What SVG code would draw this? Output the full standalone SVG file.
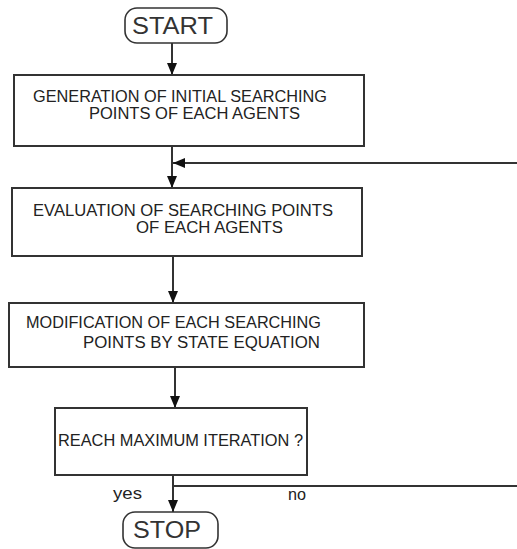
<svg xmlns="http://www.w3.org/2000/svg" width="517" height="549" viewBox="0 0 517 549">
<style>
.box{fill:#fff;stroke:#333;stroke-width:2}
.term{fill:#fff;stroke:#333;stroke-width:1.6}
.t{font-family:"Liberation Sans",Arial,sans-serif;font-size:16px;fill:#222}
.big{font-family:"Liberation Sans",Arial,sans-serif;font-size:23px;fill:#333}
.c{stroke:#333;stroke-width:2;fill:none}
</style>
<defs>
<marker id="arr" viewBox="0 0 12 10" refX="12" refY="5" markerWidth="12" markerHeight="10" orient="auto" markerUnits="userSpaceOnUse">
<path d="M0,0 L12,5 L0,10 z" fill="#111"/>
</marker>
</defs>
<rect width="517" height="549" fill="#fff"/>
<g id="connectors">
<line class="c" x1="172" y1="43" x2="172" y2="75" marker-end="url(#arr)"/>
<line class="c" x1="172" y1="146" x2="172" y2="188" marker-end="url(#arr)"/>
<line class="c" x1="517" y1="163" x2="173" y2="163" marker-end="url(#arr)"/>
<line class="c" x1="173" y1="256" x2="173" y2="303" marker-end="url(#arr)"/>
<line class="c" x1="175" y1="367" x2="175" y2="408" marker-end="url(#arr)"/>
<line class="c" x1="173" y1="475" x2="173" y2="512" marker-end="url(#arr)"/>
<line class="c" x1="173" y1="486" x2="517" y2="486"/>
<text class="t" x="113" y="499" textLength="29" lengthAdjust="spacingAndGlyphs">yes</text>
<text class="t" x="288" y="500" textLength="18" lengthAdjust="spacingAndGlyphs">no</text>
</g>
<g id="start">
<rect class="term" x="125" y="8" width="102" height="35" rx="12"/>
<text class="big" x="132" y="34" textLength="81" lengthAdjust="spacingAndGlyphs">START</text>
</g>
<g id="generation">
<rect class="box" x="14" y="75" width="350" height="71"/>
<text class="t" x="33" y="102" textLength="294" lengthAdjust="spacingAndGlyphs">GENERATION OF INITIAL SEARCHING</text>
<text class="t" x="89" y="119" textLength="211" lengthAdjust="spacingAndGlyphs">POINTS OF EACH AGENTS</text>
</g>
<g id="evaluation">
<rect class="box" x="12" y="188" width="350" height="68"/>
<text class="t" x="33" y="216" textLength="300" lengthAdjust="spacingAndGlyphs">EVALUATION OF SEARCHING POINTS</text>
<text class="t" x="136" y="233" textLength="147" lengthAdjust="spacingAndGlyphs">OF EACH AGENTS</text>
</g>
<g id="modification">
<rect class="box" x="9" y="303" width="355" height="64"/>
<text class="t" x="26" y="328" textLength="295" lengthAdjust="spacingAndGlyphs">MODIFICATION OF EACH SEARCHING</text>
<text class="t" x="83" y="348" textLength="237" lengthAdjust="spacingAndGlyphs">POINTS BY STATE EQUATION</text>
</g>
<g id="decision">
<rect class="box" x="55" y="408" width="252" height="67"/>
<text class="t" x="58" y="446" textLength="245" lengthAdjust="spacingAndGlyphs">REACH MAXIMUM ITERATION ?</text>
</g>
<g id="stop">
<rect class="term" x="123" y="512" width="95" height="36" rx="12"/>
<text class="big" x="133" y="538" textLength="68" lengthAdjust="spacingAndGlyphs">STOP</text>
</g>
</svg>
